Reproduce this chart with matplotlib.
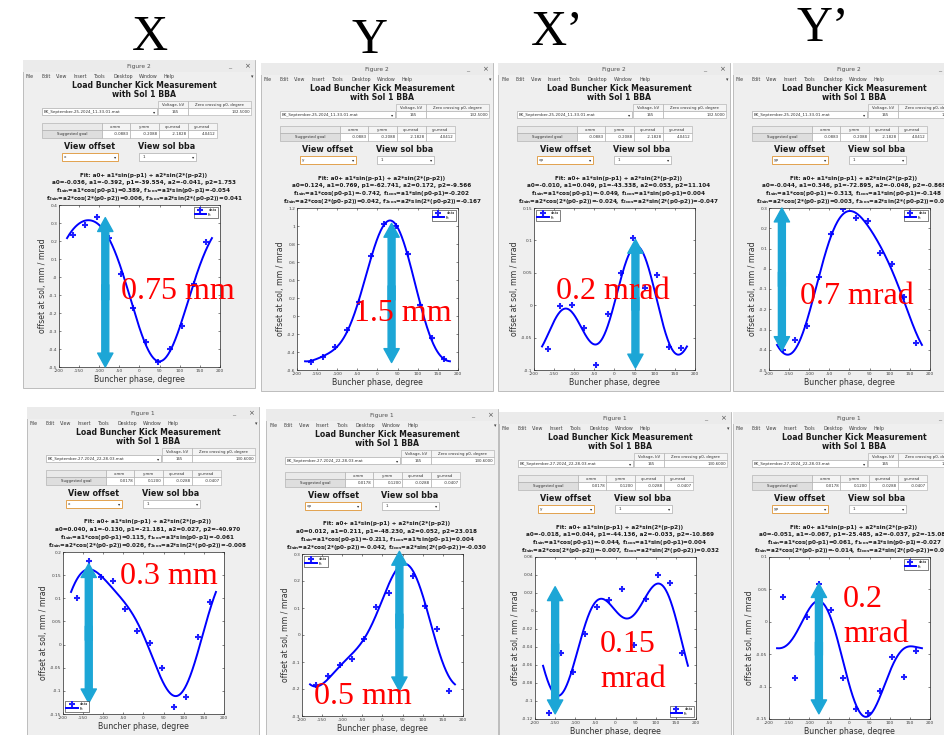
import numpy as np
import matplotlib
matplotlib.use("Agg")
import matplotlib.pyplot as plt
from matplotlib.patches import Rectangle
from matplotlib.ticker import FuncFormatter

plt.rcParams['mathtext.fontset'] = 'dejavusans'
plt.rcParams['mathtext.default'] = 'bf'

# buncher phase scan points (degree)
phase_deg = [-165, -135, -105, -75, -45, -15, 15, 45, 75, 105, 135, 165]

# measured offsets at sol 1, 25 Sep run
sep25_x = [0.235, 0.29, 0.332, 0.216, 0.017, -0.17, -0.36, -0.47, -0.40, -0.27, -0.04, 0.195]
sep25_y = [-0.51, -0.46, -0.34, -0.16, 0.16, 0.67, 1.02, 1.00, 0.69, 0.12, -0.24, -0.48]
sep25_xp = [-0.067, -0.002, 0.001, -0.035, -0.093, -0.014, 0.049, 0.104, 0.027, 0.046, -0.064, -0.066]
sep25_yp = [-0.40, -0.35, -0.285, -0.04, 0.17, 0.295, 0.25, 0.235, 0.08, 0.025, -0.14, -0.365]

# measured offsets at sol 1, 27 Sep run
sep27_x = [0.101, 0.180, 0.145, 0.137, 0.076, 0.029, 0.003, -0.050, -0.135, -0.113, 0.016, 0.092]
sep27_xp = [-0.185, -0.150, -0.110, -0.088, -0.014, 0.105, 0.157, 0.26, 0.220, 0.107, 0.021, -0.208]
sep27_y = [-0.113, -0.047, -0.068, -0.026, 0.005, 0.012, 0.025, -0.038, 0.013, 0.040, 0.031, -0.047]
sep27_yp = [0.039, -0.087, 0.007, 0.058, 0.018, -0.087, -0.135, -0.140, -0.107, -0.055, -0.085, -0.045]

# fit results: a0, a1, p1, a2, p2
fit25_x = [-0.036, -0.392, -39.554, -0.041, 1.753]
fit25_y = [0.124, 0.769, -62.741, 0.172, -9.566]
fit25_xp = [-0.010, 0.049, -43.338, 0.053, 11.104]
fit25_yp = [-0.044, 0.346, -72.895, -0.048, -0.868]
fit27_x = [0.040, -0.130, -21.181, 0.027, -40.970]
fit27_xp = [0.012, 0.211, -48.230, 0.052, 23.018]
fit27_y = [-0.018, 0.044, -44.136, -0.033, -10.869]
fit27_yp = [-0.051, -0.067, -25.485, -0.037, -15.080]

# projected terms: f1sin, f1cos, f2sin, f2cos
proj25_x = [0.389, -0.054, 0.006, 0.041]
proj25_y = [-0.742, -0.202, 0.042, -0.167]
proj25_xp = [-0.049, 0.004, -0.024, -0.047]
proj25_yp = [-0.313, -0.148, 0.003, 0.048]
proj27_x = [0.115, -0.061, 0.026, -0.008]
proj27_xp = [-0.211, 0.004, -0.042, -0.030]
proj27_y = [-0.044, 0.004, -0.007, 0.032]
proj27_yp = [0.061, -0.027, -0.014, 0.035]

goal25 = ["-0.0883", "-0.2088", "-2.1828", "4.0412"]
goal27 = ["0.0178", "0.1200", "-0.0288", "-0.0407"]
goal_cols = ["x,mm", "y,mm", "xp,mrad", "yp,mrad"]

column_titles = ["X", "Y", "X\u2019", "Y\u2019"]

W, H = 945, 735
fig = plt.figure(figsize=(W / 100, H / 100), dpi=100)
fig.patch.set_facecolor('white')

# pixel canvas for the window chrome (y grows downward)
bg = fig.add_axes([0, 0, 1, 1])
bg.set_xlim(0, W)
bg.set_ylim(H, 0)
bg.axis('off')

GUI = 'DejaVu Sans'
CYAN = '#1ca6d6'


def fig_xy(x, y):
    return x / W, 1 - y / H


def cell(x0, y0, w, h, fc):
    bg.add_patch(Rectangle((x0, y0), w, h, fc=fc, ec='#a8a8a8', lw=0.4))


def window(L, T, h, fig_no, fname, p0, goal, view, fit, proj):
    bg.add_patch(Rectangle((L, T), 232, h, fc='#efefef', ec='#b4b4b4', lw=0.6))
    bg.add_patch(Rectangle((L, T), 232, 12, fc='#ebebeb', ec='none'))
    bg.text(L + 116, T + 6.5, f"Figure {fig_no}", fontsize=4.2, color='#505050',
            ha='center', va='center', family=GUI)
    bg.text(L + 207, T + 6, "_", fontsize=4.5, color='#505050', ha='center', va='center')
    bg.text(L + 224, T + 6.5, "\u00d7", fontsize=5, color='#505050', ha='center', va='center')
    for lx, name in zip([3, 18, 33, 50, 71, 90, 116, 141],
                        ["File", "Edit", "View", "Insert", "Tools", "Desktop", "Window", "Help"]):
        bg.text(L + lx, T + 16.5, name, fontsize=3.4, color='#404040', va='center', family=GUI)
    bg.text(L + 229, T + 16.5, "\u25be", fontsize=3.5, color='#404040', ha='center', va='center')

    bg.text(L + 121, T + 25.5, "Load Buncher Kick Measurement", fontsize=5.6,
            weight='bold', ha='center', va='center', family=GUI, color='#1a1a1a')
    bg.text(L + 121, T + 34.5, "with Sol 1 BBA", fontsize=5.6,
            weight='bold', ha='center', va='center', family=GUI, color='#1a1a1a')

    # data file selector
    bg.add_patch(Rectangle((L + 19, T + 48), 115, 7, fc='white', ec='#9a9a9a', lw=0.4))
    bg.text(L + 21, T + 51.6, fname, fontsize=2.9, va='center', family=GUI, color='#303030')
    bg.text(L + 131, T + 51.6, "\u25be", fontsize=3.2, ha='center', va='center', color='#303030')

    # voltage / zero crossing table
    cell(L + 135, T + 41, 30, 7, '#f4f4f4')
    cell(L + 165, T + 41, 63, 7, '#f4f4f4')
    cell(L + 135, T + 48, 30, 7, 'white')
    cell(L + 165, T + 48, 63, 7, 'white')
    bg.text(L + 150, T + 44.6, "Voltage, kV", fontsize=2.8, ha='center', va='center',
            family=GUI, color='#303030')
    bg.text(L + 196.5, T + 44.6, "Zero crossing p0, degree", fontsize=2.8, ha='center',
            va='center', family=GUI, color='#303030')
    bg.text(L + 152, T + 51.6, "165", fontsize=2.8, ha='center', va='center', family=GUI,
            color='#303030')
    bg.text(L + 227, T + 51.6, p0, fontsize=2.8, ha='right', va='center', family=GUI,
            color='#303030')

    # suggested goal table
    edges = [19, 79, 107, 136, 165, 194]
    cell(L + 19, T + 63, 60, 7, '#e9e9e9')
    cell(L + 19, T + 70, 60, 8, '#dedede')
    bg.text(L + 49, T + 74, "Suggested goal", fontsize=2.8, ha='center', va='center',
            family=GUI, color='#303030')
    for k in range(4):
        x0, x1 = edges[k + 1], edges[k + 2]
        cell(L + x0, T + 63, x1 - x0, 7, '#f4f4f4')
        cell(L + x0, T + 70, x1 - x0, 8, 'white')
        bg.text(L + (x0 + x1) / 2, T + 66.6, goal_cols[k], fontsize=2.8, ha='center',
                va='center', family=GUI, color='#303030')
        bg.text(L + x1 - 1, T + 74, goal[k], fontsize=2.8, ha='right', va='center',
                family=GUI, color='#303030')

    bg.text(L + 67, T + 86, "View offset", fontsize=5.8, weight='bold', ha='center',
            va='center', family=GUI, color='#1a1a1a')
    bg.text(L + 144, T + 86, "View sol bba", fontsize=5.8, weight='bold', ha='center',
            va='center', family=GUI, color='#1a1a1a')
    bg.add_patch(Rectangle((L + 39, T + 93), 56, 8, fc='white', ec='#e2a24e', lw=0.7))
    bg.text(L + 41, T + 97, view, fontsize=3, va='center', family=GUI, color='#303030')
    bg.text(L + 92, T + 97, "\u25be", fontsize=3.2, ha='center', va='center', color='#303030')
    bg.add_patch(Rectangle((L + 116, T + 93), 57, 8, fc='white', ec='#9a9a9a', lw=0.4))
    bg.text(L + 120, T + 97, "1", fontsize=3, va='center', family=GUI, color='#303030')
    bg.text(L + 170, T + 97, "\u25be", fontsize=3.2, ha='center', va='center', color='#303030')

    a0, a1, p1, a2, p2 = fit
    lines = [
        "Fit: a0+ a1*sin(p-p1) + a2*sin(2*(p-p2))",
        f"a0={a0:.3f}, a1={a1:.3f}, p1={p1:.3f}, a2={a2:.3f}, p2={p2:.3f}",
        f"$f_{{1sin}}$=a1*cos(p0-p1)={proj[0]:.3f}, $f_{{1cos}}$=a1*sin(p0-p1)={proj[1]:.3f}",
        f"$f_{{2sin}}$=a2*cos(2*(p0-p2))={proj[2]:.3f}, $f_{{2cos}}$=a2*sin(2*(p0-p2))={proj[3]:.3f}",
    ]
    for k, s in enumerate(lines):
        bg.text(L + 121, T + 115 + 7.7 * k, s, fontsize=4.1, weight='bold', ha='center',
                va='center', family=GUI, color='#1a1a1a')


def tick_fmt(v, pos):
    return f"{round(v, 4):g}"


def scan_plot(L, T, vals, fit, yticks, legend_loc, arrow):
    x0, y0 = fig_xy(L + 36, T + 307)
    ax = fig.add_axes([x0, y0, 161 / W, 162 / H])
    ax.set_facecolor('white')
    p = np.linspace(-180, 180, 361)
    a0, a1, p1, a2, p2 = fit
    curve = a0 + a1 * np.sin(np.radians(p - p1)) + a2 * np.sin(np.radians(2 * (p - p2)))
    ax.plot(phase_deg, vals, ls='none', marker='+', ms=4, mew=1.5, color='#1f1fff',
            label='data')
    ax.plot(p, curve, color='#0000ff', lw=1.4, label='fit')
    ax.set_xlim(-200, 200)
    ax.set_ylim(yticks[0], yticks[-1])
    ax.set_xticks(np.arange(-200, 201, 50))
    ax.set_yticks(yticks)
    ax.xaxis.set_major_formatter(FuncFormatter(tick_fmt))
    ax.yaxis.set_major_formatter(FuncFormatter(tick_fmt))
    ax.tick_params(direction='in', length=1.6, width=0.4, labelsize=3.2, colors='#262626',
                   labelcolor='#404040', pad=1.2, top=True, right=True)
    for sp in ax.spines.values():
        sp.set_linewidth(0.5)
        sp.set_color('#262626')
    ax.set_xlabel("Buncher phase, degree", fontsize=5.6, color='#303030', labelpad=1.5,
                  family=GUI)
    ax.set_ylabel("offset at sol, mm / mrad", fontsize=5.6, color='#303030', labelpad=1.5,
                  family=GUI)
    ax.legend(loc=legend_loc, fontsize=2.6, frameon=True, fancybox=False, edgecolor='#202020',
              framealpha=1, borderpad=0.3, handlelength=3.2, labelspacing=0.1,
              handletextpad=0.6, borderaxespad=0.6).get_frame().set_linewidth(0.4)

    ax_x, y_top, y_bot = arrow
    y_lo = y_bot + 0.45 * (y_top - y_bot)
    y_hi = y_bot + 0.55 * (y_top - y_bot)
    style = 'simple,head_length=1.0,head_width=1.1,tail_width=0.5'
    ax.annotate('', xy=(ax_x, y_top), xytext=(ax_x, y_lo),
                arrowprops=dict(arrowstyle=style, color=CYAN, shrinkA=0, shrinkB=0,
                                mutation_scale=10), annotation_clip=False, zorder=5)
    ax.annotate('', xy=(ax_x, y_bot), xytext=(ax_x, y_hi),
                arrowprops=dict(arrowstyle=style, color=CYAN, shrinkA=0, shrinkB=0,
                                mutation_scale=10), annotation_clip=False, zorder=5)
    return ax


# window origins (left, top) in pixels
tops = [(23, 60), (261, 63), (498, 63), (733, 63)]
bottoms = [(27, 407), (266, 409), (499, 412), (733, 412)]

fname25 = "BK_September-25-2024_11-33-01.mat"
fname27 = "BK_September-27-2024_22-28-03.mat"

row25 = [
    ("x", sep25_x, fit25_x, proj25_x, np.round(np.arange(-0.5, 0.41, 0.1), 2), 'upper right', (-85, 0.33, -0.50)),
    ("y", sep25_y, fit25_y, proj25_y, np.round(np.arange(-0.6, 1.21, 0.2), 2), 'upper right', (35, 1.03, -0.517)),
    ("xp", sep25_xp, fit25_xp, proj25_xp, np.round(np.arange(-0.1, 0.151, 0.05), 3), 'upper left', (52, 0.1016, -0.097)),
    ("yp", sep25_yp, fit25_yp, proj25_yp, np.round(np.arange(-0.5, 0.31, 0.1), 2), 'upper right', (-168, 0.30, -0.404)),
]
row27 = [
    ("x", sep27_x, fit27_x, proj27_x, np.round(np.arange(-0.15, 0.201, 0.05), 3), 'lower left', (-136, 0.175, -0.126)),
    ("xp", sep27_xp, fit27_xp, proj27_xp, np.round(np.arange(-0.3, 0.31, 0.1), 2), 'upper left', (42, 0.31, -0.207)),
    ("y", sep27_y, fit27_y, proj27_y, np.round(np.arange(-0.12, 0.061, 0.02), 3), 'lower right', (-150, 0.027, -0.1143)),
    ("yp", sep27_yp, fit27_yp, proj27_yp, np.round(np.arange(-0.15, 0.101, 0.05), 3), 'upper right', (-76, 0.059, -0.142)),
]

for (L, T), (view, vals, fit, proj, yt, loc, arr) in zip(tops, row25):
    window(L, T, 328, 2, fname25, "132.5000", goal25, view, fit, proj)
    scan_plot(L, T, vals, fit, yt, loc, arr)

for (L, T), (view, vals, fit, proj, yt, loc, arr) in zip(bottoms, row27):
    window(L, T, 340, 1, fname27, "130.6000", goal27, view, fit, proj)
    scan_plot(L, T, vals, fit, yt, loc, arr)

# column headings
for (cx, by), s in zip([(150, 50), (370, 53), (557, 45), (823, 41)], column_titles):
    fig.text(*fig_xy(cx, by), s, fontsize=36, family='Liberation Serif', ha='center',
             va='baseline', color='black')

# kick amplitude labels
SERIF = 'Liberation Serif'
for (cx, cy), s in zip([(178, 292), (403, 314), (613, 292), (857, 296), (169, 576), (363, 697)],
                       ["0.75 mm", "1.5 mm", "0.2 mrad", "0.7 mrad", "0.3 mm", "0.5 mm"]):
    fig.text(*fig_xy(cx, cy), s, fontsize=23, family=SERIF, color='red', ha='center',
             va='center')
fig.text(*fig_xy(600, 662), "0.15\nmrad", fontsize=23, family=SERIF, color='red', ha='left',
         va='center', linespacing=1.25)
fig.text(*fig_xy(843, 617), "0.2\nmrad", fontsize=23, family=SERIF, color='red', ha='left',
         va='center', linespacing=1.25)

fig.savefig("out.png", dpi=100, facecolor='white')
